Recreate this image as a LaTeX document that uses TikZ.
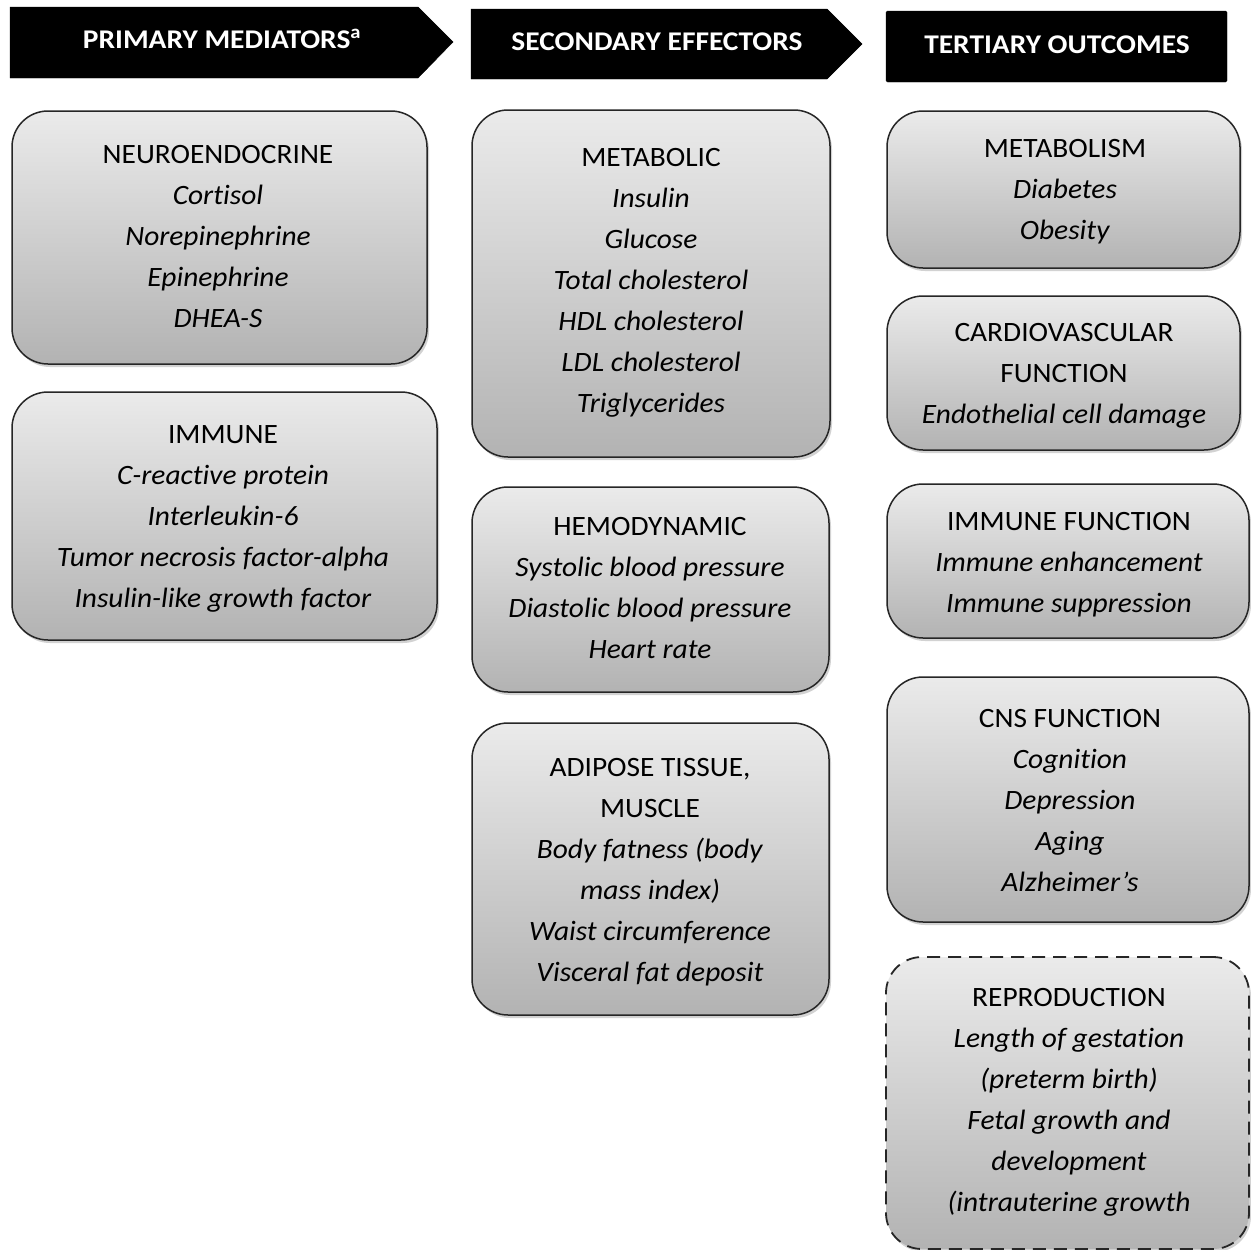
\documentclass[tikz,border=0pt]{standalone}
\usepackage{fontspec}
\setmainfont{Carlito}[FakeStretch=1.05, Ligatures=NoCommon]
\newfontfamily\hdrfont{Carlito}[FakeStretch=1.09, Ligatures=NoCommon]
\usetikzlibrary{shadows}
\tikzset{
  hdr/.style={fill=black, draw=black},
  hdrtxt/.style={text=white, font=\hdrfont\bfseries\fontsize{27}{32}\selectfont, inner sep=0pt, anchor=base},
  box/.style={rectangle, rounded corners=36pt, draw=black!85, line width=1.5pt,
    top color=gray!16, bottom color=gray!60,
    drop shadow={opacity=0.35, shadow xshift=2pt, shadow yshift=-3pt}},
  dbox/.style={box, dashed, dash pattern=on 13pt off 8pt, line width=1.8pt},
  txt/.style={align=center, inner sep=0pt, font=\fontsize{28}{41}\selectfont, anchor=north}
}
\newcommand{\bx}[6]{% name, style, x1, y1, x2, y2
  \node[#2, minimum width={#5-#3}, minimum height={#6-#4}] (#1) at ({(#3+#5)/2},{(#4+#6)/2}) {};}
\begin{document}
\begin{tikzpicture}[x=1pt,y=-1pt]
\useasboundingbox[fill=white] (0,0) rectangle (1251,1250);
% headers
\fill[hdr] (10,7) -- (418,7) -- (453,42) -- (418,78) -- (10,78) -- cycle;
\fill[hdr] (471,9) -- (827,9) -- (862,44) -- (827,79) -- (471,79) -- cycle;
\fill[hdr, rounded corners=1.5pt] (886,11) rectangle (1227,82);
\node[hdrtxt] (h1) at (222,48) {PRIMARY MEDIATORS\textsuperscript{a}};
\node[hdrtxt] (h2) at (657,50) {SECONDARY EFFECTORS};
\node[hdrtxt] (h3) at (1057,53) {TERTIARY OUTCOMES};
% column 1
\bx{neuro}{box}{12}{111}{427}{364}
\bx{immune}{box}{12}{392}{437}{640}
% column 2
\bx{metab}{box}{472}{110}{830}{457}
\bx{hemo}{box}{472}{487}{829}{692}
\bx{adip}{box}{472}{723}{829}{1015}
% column 3
\bx{metism}{box}{887}{111}{1240}{268}
\bx{cardio}{box}{887}{296}{1240}{450}
\bx{immf}{box}{887}{484}{1249}{638}
\bx{cns}{box}{887}{677}{1249}{922}
\bx{repro}{dbox}{886}{957}{1249}{1249}
% texts
\node[txt] (neuroT) at (218,145) {NEUROENDOCRINE\\\textit{Cortisol}\\\textit{Norepinephrine}\\\textit{Epinephrine}\\\textit{DHEA-S}};
\node[txt] (immuneT) at (223,425) {IMMUNE\\\textit{C-reactive protein}\\\textit{Interleukin-6}\\\textit{Tumor necrosis factor-alpha}\\\textit{Insulin-like growth factor}};
\node[txt] (metabT) at (651,148) {METABOLIC\\\textit{Insulin}\\\textit{Glucose}\\\textit{Total cholesterol}\\\textit{HDL cholesterol}\\\textit{LDL cholesterol}\\\textit{Triglycerides}};
\node[txt] (hemoT) at (650,517) {HEMODYNAMIC\\\textit{Systolic blood pressure}\\\textit{Diastolic blood pressure}\\\textit{Heart rate}};
\node[txt] (adipT) at (650,758) {ADIPOSE TISSUE,\\MUSCLE\\\textit{Body fatness (body}\\\textit{mass index)}\\\textit{Waist circumference}\\\textit{Visceral fat deposit}};
\node[txt] (metismT) at (1065,139) {METABOLISM\\\textit{Diabetes}\\\textit{Obesity}};
\node[txt] (cardioT) at (1064,323) {CARDIOVASCULAR\\FUNCTION\\\textit{Endothelial cell damage}};
\node[txt] (immfT) at (1069,512) {IMMUNE FUNCTION\\\textit{Immune enhancement}\\\textit{Immune suppression}};
\node[txt] (cnsT) at (1070,709) {CNS FUNCTION\\\textit{Cognition}\\\textit{Depression}\\\textit{Aging}\\\textit{Alzheimer’s}};
\node[txt] (reproT) at (1069,988) {REPRODUCTION\\\textit{Length of gestation}\\\textit{(preterm birth)}\\\textit{Fetal growth and}\\\textit{development}\\\textit{(intrauterine growth}};
\end{tikzpicture}
\end{document}
